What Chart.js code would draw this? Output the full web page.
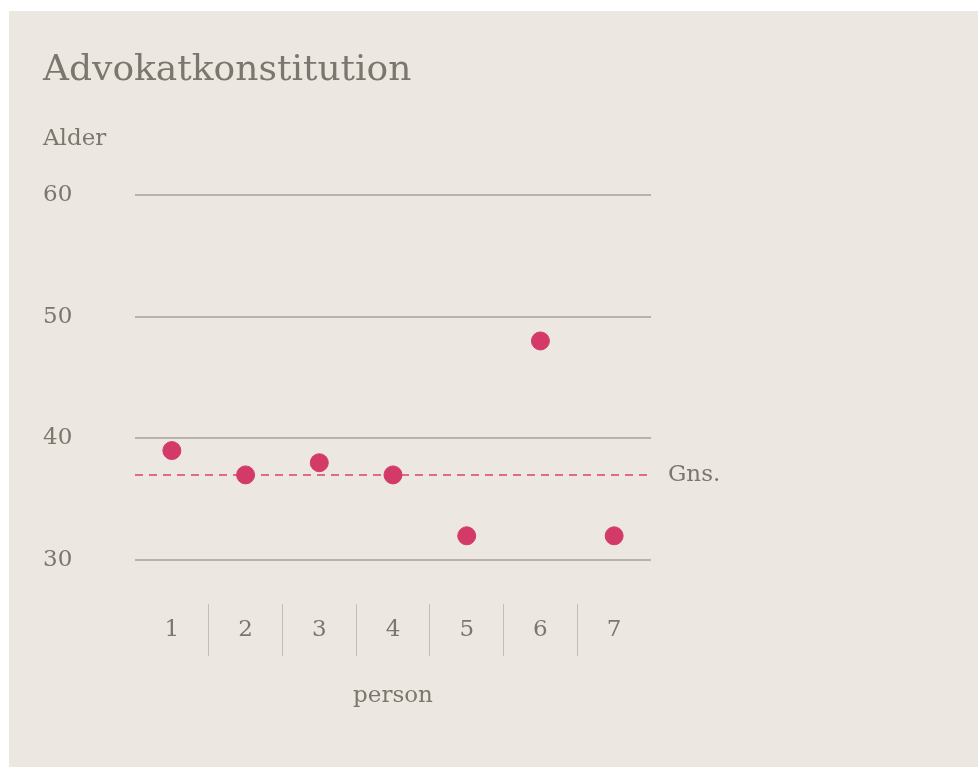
<!DOCTYPE html>
<html>
<head>
<meta charset="utf-8">
<script src="https://cdn.jsdelivr.net/npm/chart.js@4.4.1/dist/chart.umd.min.js"></script>
<style>
  body { margin: 0; background: #fff; }
  #panel { position: absolute; left: 9px; top: 11px; width: 969px; height: 756px; background: #ECE7E1; }
</style>
</head>
<body>
<div id="panel"><canvas id="ageChart"></canvas></div>
<script>
const persons = ['1', '2', '3', '4', '5', '6', '7'];
const ages = [39, 37, 38, 37, 32, 48, 32];
const averageAge = 37;
const yTicks = [30, 40, 50, 60];

const textColor = '#7B776C';
const serif = "'DejaVu Serif', 'Liberation Serif', serif";

// dashed average line + "Gns." label across the whole plot width
const averageLine = {
    id: 'averageLine',
    beforeDatasetsDraw(chart) {
        const { ctx, chartArea, scales } = chart;
        const y = scales.y.getPixelForValue(averageAge);
        ctx.save();
        ctx.strokeStyle = '#E0698C';
        ctx.lineWidth = 2;
        ctx.setLineDash([8, 6]);
        ctx.beginPath();
        ctx.moveTo(chartArea.left, y);
        ctx.lineTo(chartArea.right, y);
        ctx.stroke();
        ctx.setLineDash([]);
        ctx.fillStyle = textColor;
        ctx.font = "23px " + serif;
        ctx.textBaseline = 'middle';
        ctx.fillText('Gns.', chartArea.right + 17, y);
        ctx.restore();
    }
};

new Chart(document.getElementById('ageChart').getContext('2d'), {
    type: 'scatter',
    data: {
        labels: persons,
        datasets: [{
            label: 'Alder',
            data: ages,
            backgroundColor: '#D33A68',
            borderColor: '#D33A68',
            pointRadius: 9,
            pointHoverRadius: 9,
            showLine: false
        }]
    },
    options: {
        responsive: true,
        maintainAspectRatio: false,
        animation: false,
        layout: { padding: { left: 34, right: 327, top: 0, bottom: 0 } },
        plugins: {
            legend: { display: false },
            tooltip: { enabled: false },
            title: {
                display: true,
                text: 'Advokatkonstitution',
                align: 'start',
                color: textColor,
                font: { family: serif, size: 36, weight: 'normal' },
                padding: { top: 38, bottom: 0 }
            },
            subtitle: {
                display: true,
                text: 'Alder',
                align: 'start',
                color: textColor,
                font: { family: serif, size: 23 },
                padding: { top: 33, bottom: 42 }
            }
        },
        scales: {
            x: {
                type: 'category',
                offset: true,
                border: { display: false },
                afterFit: (scale) => { scale.height = 163; },
                grid: {
                    offset: true,
                    drawOnChartArea: false,
                    tickLength: 52,
                    lineWidth: 1,
                    // only the separators between persons, not the outer edges
                    color: (c) => (c.index === undefined || c.index === 0 || c.index >= persons.length) ? 'rgba(0,0,0,0)' : '#C3BDB6'
                },
                ticks: {
                    color: textColor,
                    padding: -40,
                    font: { family: serif, size: 23 }
                },
                title: {
                    display: true,
                    text: 'person',
                    color: textColor,
                    font: { family: serif, size: 23 },
                    padding: { top: 0, bottom: 57 }
                }
            },
            y: {
                min: 26.4,
                max: 60,
                border: { display: false },
                afterBuildTicks: (scale) => { scale.ticks = yTicks.map(v => ({ value: v })); },
                afterFit: (scale) => { scale.width = 92; },
                grid: { drawTicks: false, color: '#B8B2AA', lineWidth: 2 },
                ticks: {
                    color: textColor,
                    crossAlign: 'far',
                    font: { family: serif, size: 23 }
                }
            }
        }
    },
    plugins: [averageLine]
});
</script>
</body>
</html>
